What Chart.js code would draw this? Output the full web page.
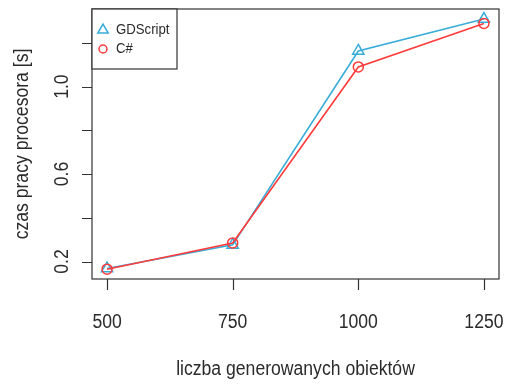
<!DOCTYPE html>
<html>
<head>
<meta charset="utf-8">
<script src="https://cdn.jsdelivr.net/npm/chart.js@4/dist/chart.umd.min.js"></script>
<style>
  html, body { margin: 0; padding: 0; background: #fff; }
  canvas { display: block; }
</style>
</head>
<body>
<canvas id="timeChart" width="507" height="385"></canvas>
<script>
// data
const objectCounts = [500, 750, 1000, 1250];
const gdscriptTimes = [0.168, 0.276, 1.163, 1.309];
const csharpTimes = [0.165, 0.285, 1.090, 1.289];

const xTicks = [500, 750, 1000, 1250];
const yTicks = [0.2, 0.4, 0.6, 0.8, 1.0, 1.2];
const yTickLabels = ['0.2', '', '0.6', '', '1.0', ''];

const seriesNames = ['GDScript', 'C#'];
const seriesColors = ['#38acd8', '#ff3b3b'];

const textColor = '#2b2b2b';
const FONT = '"Liberation Sans", Arial, sans-serif';
const SQUEEZE = 0.88;

const chartCanvas = document.getElementById('timeChart');

function toPoints(values) {
  return objectCounts.map((x, i) => ({ x: x, y: values[i] }));
}

// draw text slightly narrowed, like the original png
function drawText(ctx, text, x, y, size, angle, align) {
  ctx.save();
  ctx.translate(x, y);
  ctx.rotate(angle || 0);
  ctx.scale(SQUEEZE, 1);
  ctx.font = size + 'px ' + FONT;
  ctx.fillStyle = textColor;
  ctx.textAlign = align || 'center';
  ctx.textBaseline = 'middle';
  ctx.fillText(text, 0, 0);
  ctx.restore();
}

function drawTriangle(ctx, x, y, r, color) {
  ctx.beginPath();
  for (let k = 0; k < 3; k++) {
    const a = -Math.PI / 2 + k * 2 * Math.PI / 3;
    const px = x + Math.cos(a) * r;
    const py = y + Math.sin(a) * r;
    if (k === 0) ctx.moveTo(px, py); else ctx.lineTo(px, py);
  }
  ctx.closePath();
  ctx.strokeStyle = color;
  ctx.lineWidth = 1.5;
  ctx.stroke();
}

function drawCircle(ctx, x, y, r, color) {
  ctx.beginPath();
  ctx.arc(x, y, r, 0, Math.PI * 2);
  ctx.strokeStyle = color;
  ctx.lineWidth = 1.5;
  ctx.stroke();
}

// R style frame, axes, titles and legend
const baseGraphics = {
  id: 'baseGraphics',
  afterDraw(chart) {
    const ctx = chart.ctx;
    const area = chart.chartArea;
    const xs = chart.scales.x;
    const ys = chart.scales.y;

    ctx.save();
    ctx.strokeStyle = '#333';
    ctx.lineWidth = 1.2;
    ctx.strokeRect(area.left, area.top, area.right - area.left, area.bottom - area.top);

    // x axis ticks
    ctx.beginPath();
    xTicks.forEach(v => {
      const px = Math.round(xs.getPixelForValue(v)) + 0.5;
      ctx.moveTo(px, area.bottom);
      ctx.lineTo(px, area.bottom + 11);
    });
    // y axis ticks
    yTicks.forEach(v => {
      const py = Math.round(ys.getPixelForValue(v)) + 0.5;
      ctx.moveTo(area.left, py);
      ctx.lineTo(area.left - 10, py);
    });
    ctx.stroke();
    ctx.restore();

    xTicks.forEach(v => {
      drawText(ctx, String(v), xs.getPixelForValue(v), area.bottom + 43, 20, 0);
    });
    yTicks.forEach((v, i) => {
      if (yTickLabels[i]) {
        drawText(ctx, yTickLabels[i], area.left - 30, ys.getPixelForValue(v), 20, -Math.PI / 2);
      }
    });

    const midX = (area.left + area.right) / 2;
    const midY = (area.top + area.bottom) / 2;
    drawText(ctx, 'liczba generowanych obiektów', midX, 369, 20, 0);
    drawText(ctx, 'czas pracy procesora [s]', 22, midY, 20, -Math.PI / 2);

    // legend box in the top left corner
    ctx.save();
    ctx.fillStyle = '#fff';
    ctx.fillRect(area.left, area.top, 85, 60);
    ctx.strokeStyle = '#333';
    ctx.lineWidth = 1.2;
    ctx.strokeRect(area.left, area.top, 85, 60);
    ctx.restore();

    drawTriangle(ctx, area.left + 11, area.top + 21, 6, seriesColors[0]);
    drawCircle(ctx, area.left + 11, area.top + 40, 4, seriesColors[1]);
    drawText(ctx, seriesNames[0], area.left + 24, area.top + 21, 15, 0, 'left');
    drawText(ctx, seriesNames[1], area.left + 24, area.top + 40, 15, 0, 'left');
  }
};

new Chart(chartCanvas, {
  type: 'line',
  data: {
    datasets: [
      {
        label: seriesNames[0],
        data: toPoints(gdscriptTimes),
        borderColor: seriesColors[0],
        backgroundColor: 'rgba(0,0,0,0)',
        borderWidth: 1.6,
        pointStyle: 'triangle',
        pointRadius: 6.5,
        pointBorderWidth: 1.5,
        order: 2
      },
      {
        label: seriesNames[1],
        data: toPoints(csharpTimes),
        borderColor: seriesColors[1],
        backgroundColor: 'rgba(0,0,0,0)',
        borderWidth: 1.6,
        pointStyle: 'circle',
        pointRadius: 5,
        pointBorderWidth: 1.5,
        order: 1
      }
    ]
  },
  options: {
    responsive: false,
    animation: false,
    layout: { padding: { top: 9, right: 4, left: 0, bottom: 0 } },
    plugins: {
      legend: { display: false },
      tooltip: { enabled: false }
    },
    scales: {
      x: {
        type: 'linear',
        min: 470,
        max: 1280,
        grid: { display: false },
        border: { display: false },
        ticks: { display: false },
        afterFit: scale => { scale.height = 106; }
      },
      y: {
        type: 'linear',
        min: 0.12,
        max: 1.355,
        grid: { display: false },
        border: { display: false },
        ticks: { display: false },
        afterFit: scale => { scale.width = 92; }
      }
    }
  },
  plugins: [baseGraphics]
});
</script>
</body>
</html>
